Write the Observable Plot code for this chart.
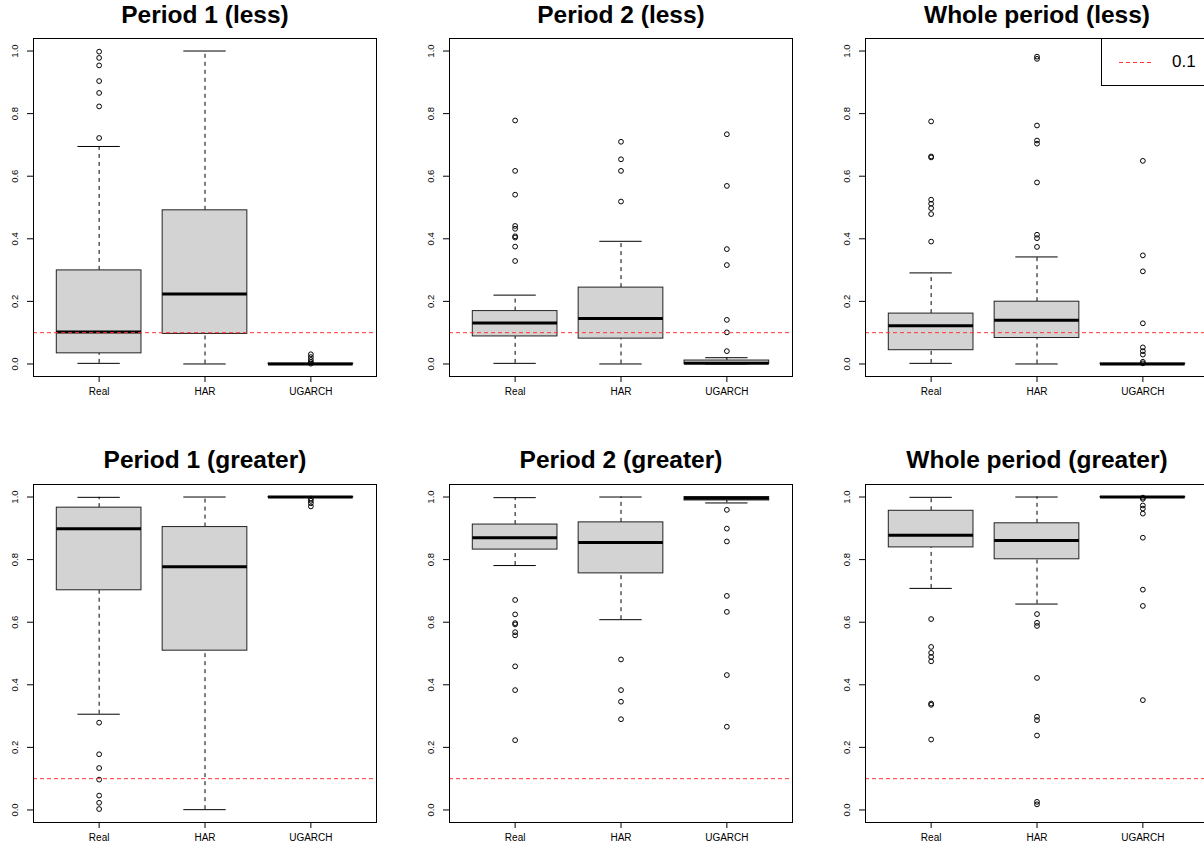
<!DOCTYPE html>
<html>
<head>
<meta charset="utf-8">
<script src="https://cdn.jsdelivr.net/npm/d3@7"></script>
<script src="https://cdn.jsdelivr.net/npm/@observablehq/plot@0.6"></script>
<style>
  body { margin: 0; background: #fff; overflow: hidden; }
  #wrap { position: relative; width: 1204px; height: 852px; overflow: hidden; font-family: "Liberation Sans", Arial, Helvetica, sans-serif; background: #fff; }
  .panel { position: absolute; }
  .legend { position: absolute; left: 1101px; top: 38px; width: 107px; height: 48px; box-sizing: border-box; border: 1px solid #000; background: #fff; }
  .legend svg { position: absolute; left: 0; top: 0; }
  .legend span { position: absolute; left: 70px; top: 13px; font-size: 17px; color: #000; line-height: 20px; }
</style>
</head>
<body>
<div id="wrap"></div>
<script>
// ---- data ----
const categories = ["Real", "HAR", "UGARCH"];
const titles = ["Period 1 (less)", "Period 2 (less)", "Whole period (less)",
                "Period 1 (greater)", "Period 2 (greater)", "Whole period (greater)"];
const threshold = 0.1;
const yTicks = [0, 0.2, 0.4, 0.6, 0.8, 1.0];

// box stats per category: [lower whisker, Q1, median, Q3, upper whisker]
const p1LessStats = [[0.002, 0.034, 0.102, 0.299, 0.695], [0.0, 0.096, 0.224, 0.491, 1.0], [0.0, 0.0, 0.0, 0.001, 0.0]];
const p2LessStats = [[0.002, 0.088, 0.131, 0.169, 0.220], [0.0, 0.081, 0.145, 0.244, 0.392], [0.0, 0.0, 0.002, 0.011, 0.020]];
const wLessStats  = [[0.002, 0.044, 0.122, 0.161, 0.291], [0.0, 0.083, 0.140, 0.199, 0.342], [0.0, 0.0, 0.0, 0.001, 0.0]];
const p1GreaterStats = [[0.306, 0.702, 0.899, 0.966, 0.999], [0.001, 0.509, 0.777, 0.904, 1.0], [1.0, 0.999, 1.0, 1.0, 1.0]];
const p2GreaterStats = [[0.781, 0.832, 0.870, 0.912, 0.998], [0.608, 0.756, 0.855, 0.919, 1.0], [0.981, 0.989, 0.996, 1.0, 1.0]];
const wGreaterStats  = [[0.708, 0.839, 0.878, 0.956, 0.999], [0.658, 0.801, 0.861, 0.916, 1.0], [0.999, 0.999, 1.0, 1.0, 1.0]];

// outliers per category
const p1LessOut = [[0.998, 0.978, 0.954, 0.904, 0.866, 0.823, 0.722], [], [0.031, 0.022, 0.013, 0.006, 0.001]];
const p2LessOut = [[0.778, 0.617, 0.541, 0.441, 0.432, 0.408, 0.404, 0.375, 0.329], [0.710, 0.654, 0.617, 0.519],
                   [0.734, 0.569, 0.367, 0.316, 0.141, 0.101, 0.041]];
const wLessOut  = [[0.775, 0.663, 0.660, 0.525, 0.512, 0.498, 0.479, 0.391],
                   [0.982, 0.975, 0.762, 0.714, 0.704, 0.580, 0.413, 0.402, 0.374],
                   [0.649, 0.347, 0.296, 0.130, 0.053, 0.041, 0.030, 0.007, 0.002]];
const p1GreaterOut = [[0.279, 0.178, 0.134, 0.097, 0.046, 0.023, 0.003], [], [0.995, 0.988, 0.980, 0.970]];
const p2GreaterOut = [[0.671, 0.625, 0.597, 0.593, 0.568, 0.558, 0.459, 0.383, 0.223], [0.481, 0.383, 0.346, 0.290],
                      [0.959, 0.899, 0.858, 0.684, 0.633, 0.431, 0.266]];
const wGreaterOut  = [[0.610, 0.521, 0.502, 0.489, 0.475, 0.340, 0.336, 0.225],
                      [0.626, 0.598, 0.588, 0.422, 0.298, 0.287, 0.238, 0.026, 0.018],
                      [0.998, 0.994, 0.973, 0.963, 0.947, 0.870, 0.704, 0.652, 0.351]];

const panelStats = [p1LessStats, p2LessStats, wLessStats, p1GreaterStats, p2GreaterStats, wGreaterStats];
const panelOut = [p1LessOut, p2LessOut, wLessOut, p1GreaterOut, p2GreaterOut, wGreaterOut];

// ---- drawing ----
const wrap = document.getElementById("wrap");
const RED = "#ff3535";
const FONT = "Liberation Sans, Arial, Helvetica, sans-serif";

panelStats.forEach((stats, p) => {
  const col = p % 3, row = Math.floor(p / 3);
  const rows = stats.map((s, i) => ({x: i + 1, lo: s[0], q1: s[1], med: s[2], q3: s[3], hi: s[4]}));
  const outs = panelOut[p].flatMap((arr, i) => arr.map(v => ({x: i + 1, y: v})));
  const top = row === 0 ? 38 : 64;
  const bottom = row === 0 ? 44 : 31;
  const height = top + 338 + bottom;

  const chart = Plot.plot({
    width: 416,
    height,
    marginLeft: 33,
    marginRight: 40,
    marginTop: top,
    marginBottom: bottom,
    style: {fontFamily: FONT, background: "transparent", overflow: "visible"},
    x: {domain: [0.38, 3.62], label: null},
    y: {domain: [-0.04, 1.04], label: null},
    marks: [
      Plot.axisY({ticks: yTicks, tickFormat: d3.format(".1f"), tickSize: 6, tickPadding: 10, tickRotate: -90,
                  textAnchor: "middle", fontSize: 9.5, stroke: "#000", color: "#000", label: null}),
      Plot.axisX({ticks: [1, 2, 3], tickFormat: i => categories[i - 1], tickSize: 6, tickPadding: 5,
                  fontSize: 10, color: "#000", label: null}),
      // whiskers
      Plot.ruleX(rows, {x: "x", y1: "q3", y2: "hi", stroke: "#000", strokeDasharray: "4,4"}),
      Plot.ruleX(rows, {x: "x", y1: "lo", y2: "q1", stroke: "#000", strokeDasharray: "4,4"}),
      // staples
      Plot.ruleY(rows, {y: "hi", x1: d => d.x - 0.2, x2: d => d.x + 0.2, stroke: "#000"}),
      Plot.ruleY(rows, {y: "lo", x1: d => d.x - 0.2, x2: d => d.x + 0.2, stroke: "#000"}),
      // boxes
      Plot.rect(rows, {x1: d => d.x - 0.4, x2: d => d.x + 0.4, y1: "q1", y2: "q3", fill: "#d3d3d3", stroke: "#222", strokeWidth: 1}),
      // medians
      Plot.ruleY(rows, {y: "med", x1: d => d.x - 0.4, x2: d => d.x + 0.4, stroke: "#000", strokeWidth: 3}),
      // outliers
      Plot.dot(outs, {x: "x", y: "y", r: 2.4, stroke: "#000", fill: "none", strokeWidth: 1}),
      // threshold line
      Plot.ruleY([threshold], {stroke: RED, strokeDasharray: "4,3", strokeWidth: 1}),
      Plot.frame({stroke: "#000", strokeWidth: 1}),
      // title
      Plot.text([titles[p]], {frameAnchor: "top", lineAnchor: "middle", dy: row === 0 ? -23 : -24,
                              fontSize: 24.5, fontWeight: "bold", fill: "#000"})
    ]
  });
  chart.classList.add("panel");
  chart.style.left = (col * 416) + "px";
  chart.style.top = (row === 0 ? 0 : 420) + "px";
  wrap.appendChild(chart);
});

// legend (top-right of the third panel)
const leg = document.createElement("div");
leg.className = "legend";
leg.innerHTML = `<svg width="107" height="46"><line x1="17" x2="52" y1="23.5" y2="23.5" stroke="${RED}" stroke-dasharray="4,3"/></svg><span>${threshold}</span>`;
wrap.appendChild(leg);
</script>
</body>
</html>
